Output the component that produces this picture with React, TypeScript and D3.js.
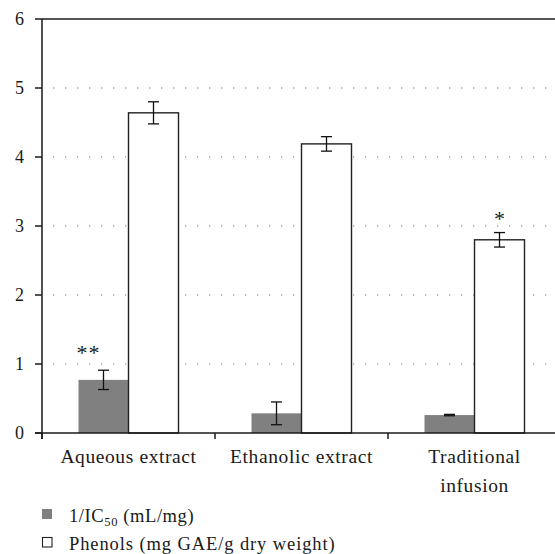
import React from "react";
import * as d3 from "d3";

const categories = ["Aqueous extract", "Ethanolic extract", "Traditional infusion"];
const categoryLines = [["Aqueous extract"], ["Ethanolic extract"], ["Traditional", "infusion"]];
const ic50Values = [0.77, 0.285, 0.26];
const ic50Errors = [0.14, 0.165, 0.01];
const phenolValues = [4.64, 4.19, 2.8];
const phenolErrors = [0.16, 0.105, 0.105];
const ic50Marks = ["**", "", ""];
const phenolMarks = ["", "", "*"];
const yTicks = [0, 1, 2, 3, 4, 5, 6];
const gridValues = [1, 2, 3, 4, 5];

const W = 555;
const H = 554;
const FONT = "'Liberation Serif', 'Times New Roman', serif";

export default function App() {
  const left = 42;
  const catW = 173;
  const x = d3.scaleLinear().domain([0, 3]).range([left, left + catW * 3]);
  const y = d3.scaleLinear().domain([0, 6]).range([433, 19]);
  const barW = 50;
  const capHalf = 5.5;
  const axisColor = "#1a1a1a";
  const textColor = "#1a1a1a";

  const errBar = (cx: number, v: number, e: number, key: string) => (
    <g key={key} stroke="#111" strokeWidth={1.3}>
      <line x1={cx} x2={cx} y1={y(v + e)} y2={y(v - e)} />
      <line x1={cx - capHalf} x2={cx + capHalf} y1={y(v + e)} y2={y(v + e)} />
      <line x1={cx - capHalf} x2={cx + capHalf} y1={y(v - e)} y2={y(v - e)} />
    </g>
  );

  return (
    <div style={{ position: "absolute", left: 0, top: 0 }}>
      <svg width={W} height={H} style={{ display: "block", background: "#fff" }} fontFamily={FONT}>
        {gridValues.map((g) => (
          <line
            key={"g" + g}
            x1={53}
            x2={W}
            y1={y(g)}
            y2={y(g)}
            stroke="#777"
            strokeWidth={1.2}
            strokeDasharray="1.2 10.8"
          />
        ))}
        {categories.map((c, i) => {
          const cx = x(i + 0.5);
          return (
            <g key={c}>
              <rect
                x={cx - barW}
                y={y(ic50Values[i])}
                width={barW}
                height={y(0) - y(ic50Values[i])}
                fill="#808080"
              />
              <rect
                x={cx}
                y={y(phenolValues[i])}
                width={barW}
                height={y(0) - y(phenolValues[i])}
                fill="#fff"
                stroke="#222"
                strokeWidth={1.4}
              />
              {errBar(cx - barW / 2, ic50Values[i], ic50Errors[i], "e1")}
              {errBar(cx + barW / 2, phenolValues[i], phenolErrors[i], "e2")}
              {ic50Marks[i] && (
                <text
                  x={cx - barW / 2 - 15}
                  y={y(ic50Values[i] + ic50Errors[i]) - 10}
                  textAnchor="middle"
                  fontSize={22}
                  letterSpacing={1}
                  fill={textColor}
                >
                  {ic50Marks[i]}
                </text>
              )}
              {phenolMarks[i] && (
                <text
                  x={cx + barW / 2}
                  y={y(phenolValues[i] + phenolErrors[i]) - 6.5}
                  textAnchor="middle"
                  fontSize={22}
                  fill={textColor}
                >
                  {phenolMarks[i]}
                </text>
              )}
            </g>
          );
        })}
        <line x1={left} x2={left} y1={y(6)} y2={y(0) + 6} stroke={axisColor} strokeWidth={1.5} />
        <line x1={left} x2={W} y1={y(6)} y2={y(6)} stroke={axisColor} strokeWidth={1.5} />
        <line x1={left - 7} x2={W} y1={y(0)} y2={y(0)} stroke={axisColor} strokeWidth={1.5} />
        {yTicks.map((t) => (
          <g key={"t" + t}>
            <line x1={left - 7} x2={left} y1={y(t)} y2={y(t)} stroke={axisColor} strokeWidth={1.5} />
            <text x={24} y={y(t)} dy="0.34em" textAnchor="end" fontSize={18} fill={textColor}>
              {t}
            </text>
          </g>
        ))}
        {[0, 1, 2].map((k) => (
          <line
            key={"xt" + k}
            x1={x(k)}
            x2={x(k)}
            y1={y(0)}
            y2={y(0) + 6}
            stroke={axisColor}
            strokeWidth={1.5}
          />
        ))}
        {categoryLines.map((lines, i) => (
          <text key={"xl" + i} x={x(i + 0.5)} textAnchor="middle" fontSize={19.5} letterSpacing={0.6} fill={textColor}>
            {lines.map((ln, j) => (
              <tspan key={j} x={x(i + 0.5)} y={463 + j * 29}>
                {ln}
              </tspan>
            ))}
          </text>
        ))}
        <rect x={42} y={509} width={10} height={10} fill="#808080" />
        <text x={69} y={522} fontSize={18.5} letterSpacing={0.6} fill={textColor}>
          1/IC
          <tspan fontSize={12.5} dy={4}>50</tspan>
          <tspan dy={-4}> (mL/mg)</tspan>
        </text>
        <rect x={42.5} y={537.5} width={9.5} height={9.5} fill="#fff" stroke="#222" strokeWidth={1.1} />
        <text x={69} y={550} fontSize={18.5} letterSpacing={0.9} fill={textColor}>
          Phenols (mg GAE/g dry weight)
        </text>
      </svg>
    </div>
  );
}
